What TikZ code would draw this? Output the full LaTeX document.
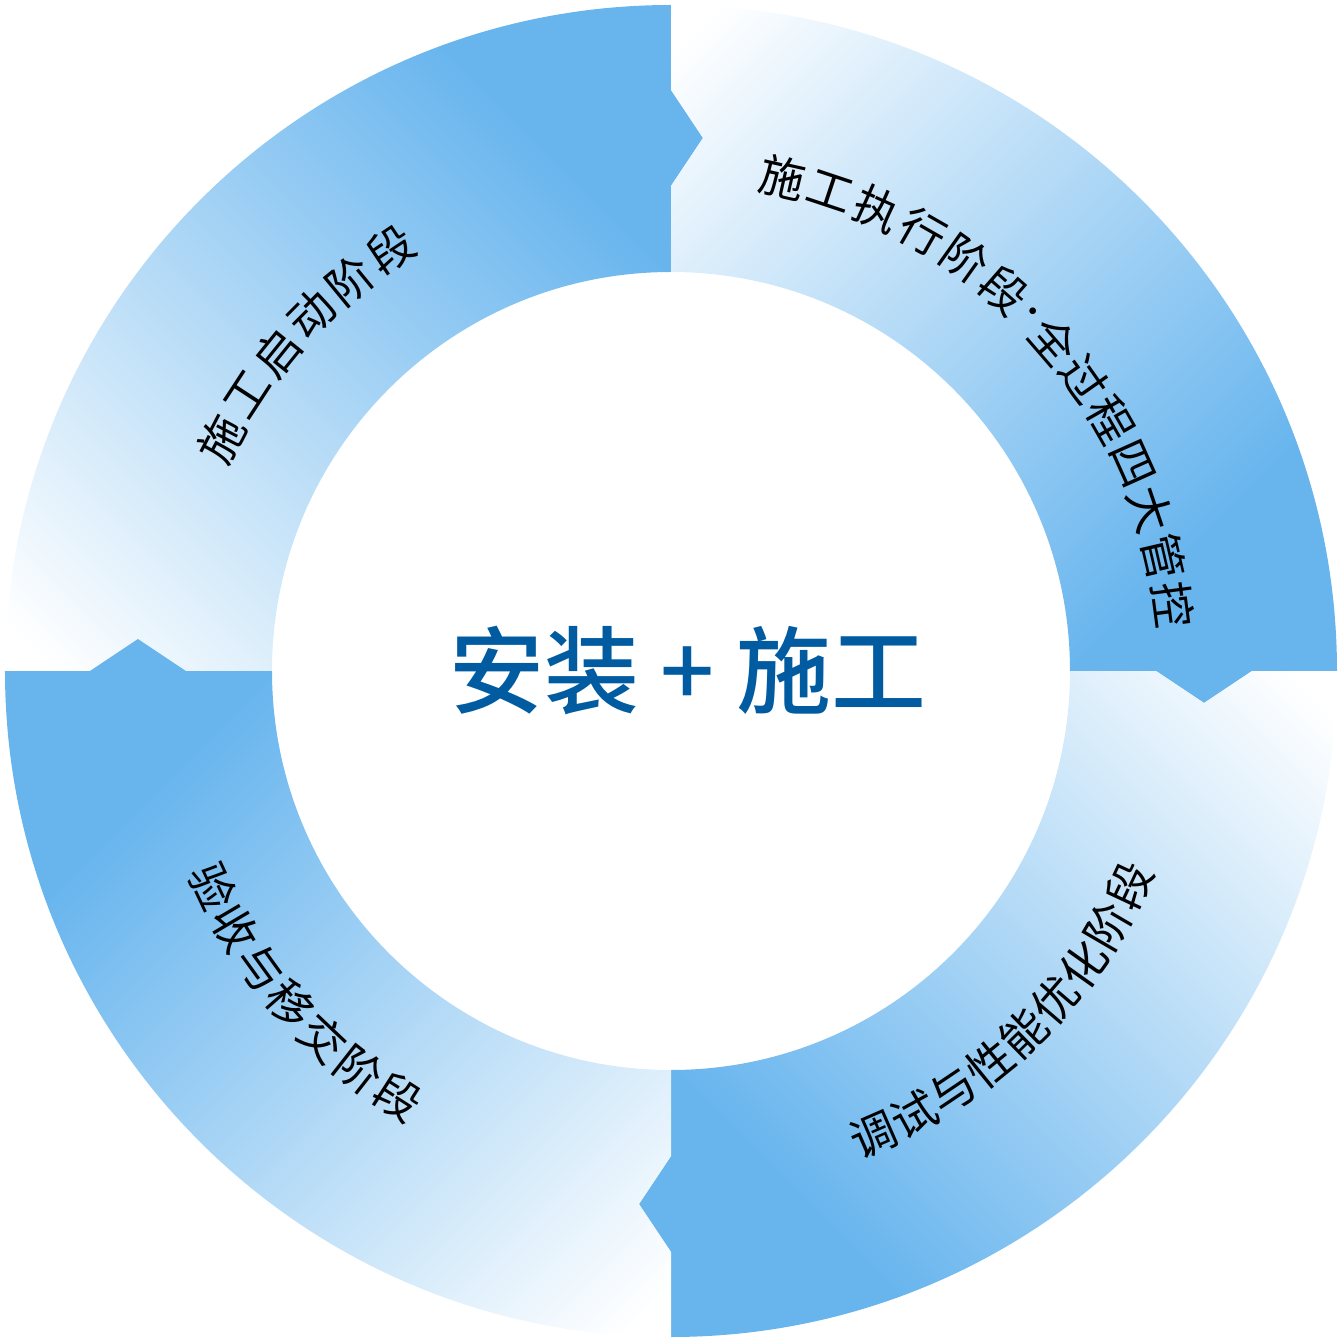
\documentclass[tikz,border=0pt]{standalone}
\usepackage{fontspec}
\usepackage{tikz}
\usetikzlibrary{calc}
\newfontfamily\cjk{Noto Sans CJK SC}
\newfontfamily\cjkmid{Noto Sans CJK SC Medium}
\definecolor{ringblue}{RGB}{104,181,238}
\definecolor{titleblue}{RGB}{0,91,160}
\pgfdeclareverticalshading{phasefade}{100bp}{color(0bp)=(white); color(17bp)=(white);
  color(70bp)=(ringblue); color(100bp)=(ringblue)}

\begin{document}
\begin{tikzpicture}[semithick]
\tikzstyle{phase char}=[inner sep=0pt, font=\cjk\fontsize{13}{13}\selectfont, text=black]
\tikzstyle{title}=[inner sep=0pt, font=\cjkmid\fontsize{27}{27}\selectfont, text=titleblue]
\def\R{6.66}
\def\r{3.99}
\def\m{5.33}
\def\h{0.48}
\def\d{0.32}
\def\tr{5.06}
\useasboundingbox (-6.71,-6.71) rectangle (6.71,6.71);

% ring segments, clockwise, arrow at the end and notch at the start
\foreach \k in {0,1,2,3} {
  \pgfmathsetmacro\a{180-90*\k}
  \pgfmathsetmacro\b{90-90*\k}
  \pgfmathsetmacro\at{\a-90}
  \pgfmathsetmacro\bt{\b-90}
  \pgfmathsetmacro\s{-45-90*\k}
  \pgfmathsetmacro\mo{\m+\h}
  \pgfmathsetmacro\mi{\m-\h}
  \shade[shading=phasefade, shading angle=\s]
    (\a:\R) arc[start angle=\a, end angle=\b, radius=\R]
    -- (\b:\mo) -- ($(\b:\m)+(\bt:\d)$) -- (\b:\mi) -- (\b:\r)
    arc[start angle=\b, end angle=\a, radius=\r]
    -- (\a:\mi) -- ($(\a:\m)+(\at:\d)$) -- (\a:\mo) -- cycle;
}

\node[title] (title) at (0.17,0) {安装 + 施工};

% labels along the ring
\foreach \ch [count=\i] in {施,工,启,动,阶,段} {
  \pgfmathsetmacro\ang{152.7-5.82*(\i-1)}
  \node[phase char, rotate=\ang-90] (start\i) at (\ang:\tr) {\ch};
}
\foreach \ch [count=\i] in {施,工,执,行,阶,段} {
  \pgfmathsetmacro\ang{77.3-5.7*(\i-1)}
  \node[phase char, rotate=\ang-90] (exec\i) at (\ang:\tr) {\ch};
}
\node[phase char, font=\cjk\fontsize{9}{9}\selectfont, rotate=44.8-90] (execdot) at (44.8:\tr) {·};
\foreach \ch [count=\i] in {全,过,程,四,大,管,控} {
  \pgfmathsetmacro\ang{40.8-5.55*(\i-1)}
  \node[phase char, rotate=\ang-90] (ctrl\i) at (\ang:\tr) {\ch};
}
\foreach \ch [count=\i] in {调,试,与,性,能,优,化,阶,段} {
  \pgfmathsetmacro\ang{-66.4+5.16*(\i-1)}
  \node[phase char, rotate=\ang+90] (tune\i) at (\ang:\tr) {\ch};
}
\foreach \ch [count=\i] in {验,收,与,移,交,阶,段} {
  \pgfmathsetmacro\ang{205.2+5.35*(\i-1)}
  \node[phase char, rotate=\ang+90] (hand\i) at (\ang:\tr) {\ch};
}
\end{tikzpicture}
\end{document}
